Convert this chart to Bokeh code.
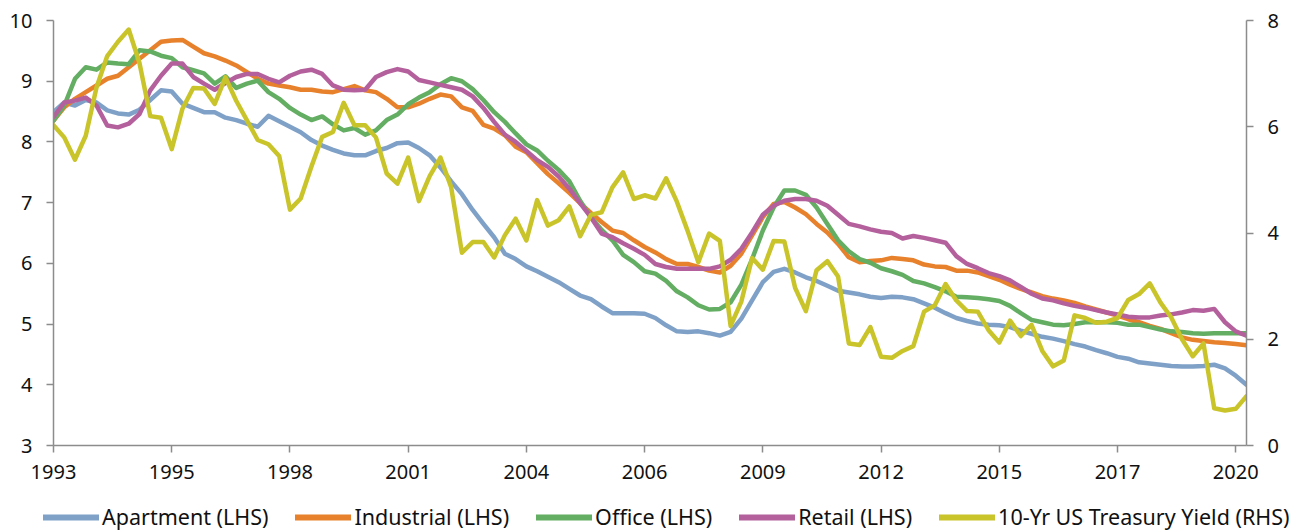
from bokeh.plotting import figure
from bokeh.layouts import column
from bokeh.models import Range1d, LinearAxis, Legend, LegendItem, FixedTicker
from bokeh.embed import file_html
from bokeh.resources import INLINE

# Quarterly series, 1993Q1 .. 2020Q4 (112 quarters)
apartment = [
    8.49, 8.65, 8.60, 8.69, 8.65, 8.52, 8.47, 8.45, 8.53, 8.69,
    8.85, 8.83, 8.63, 8.56, 8.49, 8.49, 8.40, 8.36, 8.30, 8.25,
    8.43, 8.34, 8.25, 8.16, 8.03, 7.94, 7.87, 7.81, 7.78, 7.78,
    7.85, 7.90, 7.98, 7.99, 7.90, 7.78, 7.58, 7.35, 7.14, 6.88,
    6.65, 6.43, 6.16, 6.07, 5.95, 5.87, 5.78, 5.69, 5.58, 5.47,
    5.41, 5.29, 5.18, 5.18, 5.18, 5.17, 5.10, 4.98, 4.88, 4.87,
    4.88, 4.85, 4.81, 4.87, 5.09, 5.39, 5.69, 5.86, 5.91, 5.85,
    5.77, 5.71, 5.63, 5.55, 5.52, 5.49, 5.45, 5.43, 5.45, 5.44,
    5.41, 5.34, 5.27, 5.18, 5.10, 5.05, 5.01, 4.99, 4.98, 4.95,
    4.89, 4.84, 4.79, 4.76, 4.72, 4.67, 4.63, 4.57, 4.52, 4.46,
    4.43, 4.37, 4.35, 4.33, 4.31, 4.30, 4.30, 4.31, 4.33, 4.27,
    4.15, 4.00,
]
industrial = [
    8.35, 8.57, 8.71, 8.82, 8.93, 9.04, 9.09, 9.23, 9.37, 9.51,
    9.65, 9.67, 9.68, 9.57, 9.46, 9.41, 9.34, 9.26, 9.15, 9.04,
    8.96, 8.93, 8.90, 8.86, 8.86, 8.83, 8.82, 8.87, 8.92, 8.85,
    8.82, 8.71, 8.57, 8.57, 8.63, 8.71, 8.78, 8.75, 8.57, 8.51,
    8.28, 8.22, 8.11, 7.92, 7.83, 7.65, 7.47, 7.32, 7.16, 6.99,
    6.83, 6.68, 6.54, 6.50, 6.38, 6.27, 6.18, 6.07, 5.99, 5.99,
    5.94, 5.88, 5.85, 5.96, 6.16, 6.46, 6.76, 6.98, 7.01, 6.92,
    6.81, 6.65, 6.51, 6.32, 6.10, 6.02, 6.04, 6.05, 6.09, 6.07,
    6.05, 5.98, 5.95, 5.94, 5.88, 5.88, 5.85, 5.79, 5.73, 5.65,
    5.58, 5.52, 5.46, 5.42, 5.39, 5.35, 5.29, 5.24, 5.19, 5.14,
    5.08, 5.03, 4.97, 4.92, 4.85, 4.78, 4.74, 4.72, 4.70, 4.69,
    4.67, 4.65,
]
office = [
    8.35, 8.60, 9.04, 9.23, 9.19, 9.31, 9.29, 9.28, 9.51, 9.49,
    9.42, 9.38, 9.23, 9.18, 9.13, 8.96, 9.08, 8.89, 8.96, 9.01,
    8.82, 8.71, 8.56, 8.45, 8.36, 8.42, 8.29, 8.19, 8.23, 8.12,
    8.19, 8.36, 8.45, 8.62, 8.73, 8.82, 8.95, 9.05, 9.00, 8.87,
    8.69, 8.49, 8.33, 8.14, 7.96, 7.86, 7.69, 7.54, 7.35, 7.03,
    6.76, 6.55, 6.38, 6.14, 6.02, 5.87, 5.83, 5.71, 5.54, 5.44,
    5.31, 5.24, 5.25, 5.36, 5.65, 6.07, 6.54, 6.92, 7.20, 7.20,
    7.13, 6.92, 6.65, 6.38, 6.20, 6.07, 6.01, 5.92, 5.87, 5.81,
    5.71, 5.67, 5.61, 5.54, 5.45, 5.44, 5.43, 5.41, 5.38, 5.30,
    5.18, 5.07, 5.03, 4.99, 4.98, 5.00, 5.03, 5.03, 5.03, 5.02,
    4.99, 4.99, 4.95, 4.91, 4.88, 4.87, 4.85, 4.84, 4.85, 4.85,
    4.85, 4.85,
]
retail = [
    8.41, 8.65, 8.68, 8.73, 8.60, 8.27, 8.24, 8.30, 8.46, 8.85,
    9.09, 9.29, 9.29, 9.07, 8.96, 8.86, 8.97, 9.07, 9.12, 9.12,
    9.04, 8.98, 9.09, 9.16, 9.19, 9.12, 8.93, 8.86, 8.85, 8.86,
    9.07, 9.15, 9.20, 9.16, 9.02, 8.98, 8.94, 8.90, 8.86, 8.75,
    8.56, 8.33, 8.12, 8.00, 7.85, 7.70, 7.59, 7.43, 7.23, 6.99,
    6.76, 6.49, 6.43, 6.33, 6.24, 6.14, 5.99, 5.94, 5.91, 5.91,
    5.91, 5.91, 5.95, 6.06, 6.24, 6.51, 6.80, 6.95, 7.03, 7.06,
    7.06, 7.03, 6.95, 6.80, 6.65, 6.61, 6.56, 6.52, 6.50, 6.41,
    6.45, 6.42, 6.38, 6.34, 6.12, 5.99, 5.92, 5.84, 5.79, 5.72,
    5.61, 5.50, 5.42, 5.39, 5.34, 5.30, 5.27, 5.23, 5.19, 5.16,
    5.12, 5.11, 5.11, 5.14, 5.16, 5.19, 5.23, 5.22, 5.25, 5.03,
    4.88, 4.81,
]
treasury = [
    6.03, 5.80, 5.38, 5.83, 6.74, 7.33, 7.60, 7.83, 7.20, 6.20,
    6.17, 5.58, 6.34, 6.73, 6.72, 6.43, 6.93, 6.49, 6.12, 5.75,
    5.67, 5.45, 4.44, 4.65, 5.25, 5.81, 5.90, 6.45, 6.03, 6.03,
    5.80, 5.12, 4.93, 5.42, 4.60, 5.07, 5.42, 4.86, 3.63, 3.83,
    3.83, 3.54, 3.96, 4.27, 3.86, 4.62, 4.14, 4.24, 4.50, 3.94,
    4.34, 4.39, 4.86, 5.14, 4.64, 4.71, 4.65, 5.03, 4.59, 4.04,
    3.45, 3.99, 3.85, 2.25, 2.71, 3.53, 3.31, 3.85, 3.84, 2.97,
    2.53, 3.30, 3.47, 3.18, 1.92, 1.89, 2.23, 1.67, 1.65, 1.78,
    1.87, 2.52, 2.64, 3.04, 2.73, 2.53, 2.52, 2.17, 1.94, 2.35,
    2.06, 2.27, 1.78, 1.49, 1.60, 2.45, 2.40, 2.31, 2.33, 2.40,
    2.74, 2.85, 3.05, 2.69, 2.41, 2.00, 1.68, 1.92, 0.70, 0.66,
    0.69, 0.93,
]
tick_labels = ["1993", "1995", "1998", "2001", "2004", "2006",
               "2009", "2012", "2015", "2017", "2020"]
label_every = 11  # quarters between category labels

series_names = ["Apartment (LHS)", "Industrial (LHS)", "Office (LHS)",
                "Retail (LHS)", "10-Yr US Treasury Yield (RHS)"]
colors = ["#7fa1c8", "#e8812b", "#63ae63", "#b4609d", "#cac42b"]

x = list(range(len(apartment)))
FONT = "Noto Sans"
AXIS_COLOR = "#8c8c8c"
LW = 4.5

# ---------------- main chart ----------------
p = figure(width=1304, height=495, output_backend="svg", toolbar_location=None,
           x_range=Range1d(0, len(x) - 1), y_range=Range1d(3, 10),
           min_border_left=53, min_border_right=58, min_border_top=20,
           min_border_bottom=50)
p.frame_align = False
p.extra_y_ranges = {"rhs": Range1d(0, 8)}
p.outline_line_color = None
p.grid.visible = False
p.background_fill_color = "white"
p.border_fill_color = "white"

for data, col in zip([apartment, industrial, office, retail], colors[:4]):
    p.line(x, data, line_color=col, line_width=LW,
           line_join="round", line_cap="round")
p.line(x, treasury, line_color=colors[4], line_width=LW,
       line_join="round", line_cap="round", y_range_name="rhs")

rax = LinearAxis(y_range_name="rhs")
p.add_layout(rax, "right")

ticks = [i * label_every for i in range(len(tick_labels))]
p.xaxis.ticker = FixedTicker(ticks=ticks, minor_ticks=[])
p.xaxis.major_label_overrides = {t: lab for t, lab in zip(ticks, tick_labels)}
p.yaxis[0].ticker = FixedTicker(ticks=[3, 4, 5, 6, 7, 8, 9, 10], minor_ticks=[])
rax.ticker = FixedTicker(ticks=[0, 2, 4, 6, 8], minor_ticks=[])

for ax in [p.xaxis[0], p.yaxis[0], rax]:
    ax.axis_line_color = AXIS_COLOR
    ax.axis_line_width = 1.5
    ax.major_tick_line_color = AXIS_COLOR
    ax.major_tick_line_width = 1.5
    ax.major_tick_in = 0
    ax.major_tick_out = 7
    ax.minor_tick_line_color = None
    ax.major_label_text_font = FONT
    ax.major_label_text_font_size = "20px"
    ax.major_label_text_color = "#111111"
p.yaxis[0].major_label_standoff = 14
rax.major_label_standoff = 14
p.xaxis[0].major_label_standoff = 12

# ---------------- legend strip ----------------
lg_fig = figure(width=1304, height=36, output_backend="svg", toolbar_location=None,
                x_range=Range1d(0, 1304), y_range=Range1d(0, 36),
                min_border=0, x_axis_location=None, y_axis_location=None)
lg_fig.frame_align = False
lg_fig.outline_line_color = None
lg_fig.grid.visible = False
lg_fig.border_fill_color = "white"

nan = float("nan")
items = []
for name, col in zip(series_names, colors):
    # placeholder renderer (no visible data) that only supplies the legend swatch
    r = lg_fig.line(x=[nan], y=[nan], line_color=col, line_width=6, line_cap="round")
    items.append(LegendItem(label=name, renderers=[r]))

legend = Legend(items=items, location=(43, 0), orientation="horizontal",
                padding=0, margin=0, spacing=27,
                glyph_width=56, glyph_height=20, label_standoff=3,
                label_height=20,
                border_line_color=None, background_fill_alpha=0,
                label_text_font=FONT, label_text_font_size="21.5px",
                label_text_color="#111111")
lg_fig.add_layout(legend, "center")

layout = column(p, lg_fig, spacing=0)
open("out.html", "w").write(file_html(layout, INLINE))
